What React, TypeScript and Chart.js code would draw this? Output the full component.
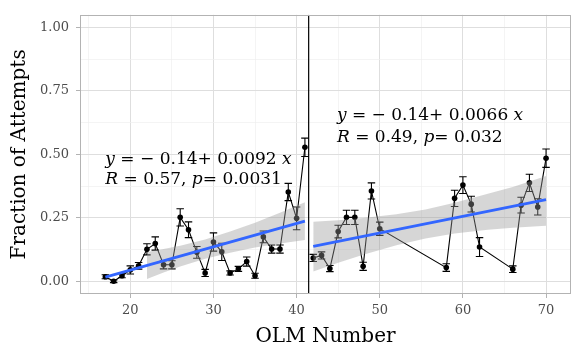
import React, { useEffect, useRef } from "react";
import { Chart, registerables } from "chart.js";

Chart.register(...registerables);

// ---------- data ----------
const leftX = [17, 18, 19, 20, 21, 22, 23, 24, 25, 26, 27, 28, 29, 30, 31, 32, 33, 34, 35, 36, 37, 38, 39, 40, 41];
const leftY = [0.018, 0.0, 0.022, 0.045, 0.061, 0.126, 0.149, 0.065, 0.065, 0.252, 0.203, 0.114, 0.033, 0.155, 0.116, 0.033, 0.049, 0.078, 0.022, 0.175, 0.127, 0.127, 0.352, 0.248, 0.528];
const leftErr = [0.008, 0.005, 0.008, 0.016, 0.013, 0.022, 0.026, 0.016, 0.016, 0.034, 0.031, 0.023, 0.014, 0.036, 0.034, 0.008, 0.01, 0.018, 0.01, 0.023, 0.016, 0.016, 0.034, 0.045, 0.036];

const rightX = [42, 43, 44, 45, 46, 47, 48, 49, 50, 58, 59, 60, 61, 62, 66, 67, 68, 69, 70];
const rightY = [0.092, 0.102, 0.05, 0.196, 0.252, 0.252, 0.059, 0.356, 0.207, 0.054, 0.327, 0.379, 0.304, 0.135, 0.048, 0.3, 0.388, 0.293, 0.485];
const rightErr = [0.014, 0.014, 0.012, 0.025, 0.028, 0.028, 0.016, 0.032, 0.026, 0.015, 0.032, 0.033, 0.031, 0.037, 0.013, 0.031, 0.034, 0.032, 0.036];

const leftFitX = [17, 41];
const leftFitY = [0.0164, 0.2372];
const rightFitX = [42, 70];
const rightFitY = [0.1372, 0.322];

const leftBandX = [22, 24, 26, 29, 32, 35, 38, 41];
const leftBandLow = [0.009, 0.035, 0.058, 0.089, 0.113, 0.133, 0.149, 0.163];
const leftBandHigh = [0.115, 0.127, 0.14, 0.165, 0.196, 0.231, 0.27, 0.311];

const rightBandX = [42, 45, 48, 52, 55.5, 59, 63, 66, 70];
const rightBandLow = [0.039, 0.073, 0.105, 0.142, 0.169, 0.188, 0.203, 0.211, 0.219];
const rightBandHigh = [0.235, 0.241, 0.249, 0.264, 0.283, 0.31, 0.345, 0.372, 0.415];

const splitX = 41.45;

const xMajorTicks = [20, 30, 40, 50, 60, 70];
const xMinorTicks = [15, 25, 35, 45, 55, 65];
const yMajorTicks = [0, 0.25, 0.5, 0.75, 1.0];
const yMinorTicks = [0.125, 0.375, 0.625, 0.875];

const xTitle = "OLM Number";
const yTitle = "Fraction of Attempts";

type Seg = { t: string; i?: boolean };
const annotations: { x: number; y: number; segs: Seg[] }[] = [
  { x: 17, y: 0.462, segs: [{ t: "y", i: true }, { t: " = − 0.14+ 0.0092 " }, { t: "x", i: true }] },
  { x: 17, y: 0.382, segs: [{ t: "R", i: true }, { t: " = 0.57, " }, { t: "p", i: true }, { t: "= 0.0031" }] },
  { x: 44.85, y: 0.635, segs: [{ t: "y", i: true }, { t: " = − 0.14+ 0.0066 " }, { t: "x", i: true }] },
  { x: 44.85, y: 0.55, segs: [{ t: "R", i: true }, { t: " = 0.49, " }, { t: "p", i: true }, { t: "= 0.032" }] },
];

// ---------- styling constants ----------
const FONT = "'DejaVu Serif', serif";
const ANNOT_SIZE = 17;
const CAP_HALF = 0.45; // in x units

const pts = (xs: number[], ys: number[]) => xs.map((x, i) => ({ x, y: ys[i] }));

const errorBarPlugin = {
  id: "errbars",
  afterDatasetDraw(chart: any, args: any) {
    const ds = chart.data.datasets[args.index] as any;
    if (!ds.errors) return;
    const { ctx, scales } = chart;
    const xs = scales.x, ys = scales.y;
    ctx.save();
    ctx.strokeStyle = "#000";
    ctx.lineWidth = 1.1;
    ds.data.forEach((p: any, i: number) => {
      const e = ds.errors[i];
      const px = xs.getPixelForValue(p.x);
      const cw = xs.getPixelForValue(p.x + CAP_HALF) - px;
      const y1 = ys.getPixelForValue(p.y - e);
      const y2 = ys.getPixelForValue(p.y + e);
      ctx.beginPath();
      ctx.moveTo(px, y1);
      ctx.lineTo(px, y2);
      ctx.moveTo(px - cw, y1);
      ctx.lineTo(px + cw, y1);
      ctx.moveTo(px - cw, y2);
      ctx.lineTo(px + cw, y2);
      ctx.stroke();
    });
    ctx.restore();
  },
};

const panelPlugin = {
  id: "panel",
  afterDatasetsDraw(chart: any) {
    const { ctx, chartArea, scales } = chart;
    ctx.save();
    ctx.fillStyle = "#000";
    ctx.textBaseline = "alphabetic";
    ctx.textAlign = "left";
    annotations.forEach((a) => {
      let px = scales.x.getPixelForValue(a.x);
      const py = scales.y.getPixelForValue(a.y);
      a.segs.forEach((s) => {
        ctx.font = `${s.i ? "italic " : ""}${ANNOT_SIZE}px ${FONT}`;
        ctx.fillText(s.t, px, py);
        px += ctx.measureText(s.t).width;
      });
    });
    ctx.strokeStyle = "#B3B3B3";
    ctx.lineWidth = 1;
    ctx.strokeRect(
      Math.round(chartArea.left) + 0.5,
      Math.round(chartArea.top) + 0.5,
      Math.round(chartArea.right - chartArea.left) - 1,
      Math.round(chartArea.bottom - chartArea.top) - 1
    );
    ctx.restore();
  },
};

const isMajorX = (v: number) => xMajorTicks.some((t) => Math.abs(t - v) < 1e-6);
const isMajorY = (v: number) => yMajorTicks.some((t) => Math.abs(t - v) < 1e-6);

export default function App() {
  const ref = useRef<HTMLCanvasElement>(null);
  useEffect(() => {
    document.body.style.margin = "0";
    Chart.defaults.font.family = FONT;
    const canvas = ref.current!;
    const bandFill = "rgba(153,153,153,0.4)";
    const chart = new Chart(canvas, {
      type: "line",
      data: {
        datasets: [
          {
            data: pts(leftX, leftY),
            errors: leftErr,
            borderColor: "#000",
            borderWidth: 1.1,
            pointRadius: 2.8,
            pointBackgroundColor: "#000",
            pointBorderWidth: 0,
            tension: 0,
            order: 4,
          } as any,
          {
            data: pts(rightX, rightY),
            errors: rightErr,
            borderColor: "#000",
            borderWidth: 1.1,
            pointRadius: 2.8,
            pointBackgroundColor: "#000",
            pointBorderWidth: 0,
            tension: 0,
            order: 4,
          } as any,
          { data: pts(leftBandX, leftBandLow), borderWidth: 0, pointRadius: 0, fill: false, order: 3 },
          { data: pts(leftBandX, leftBandHigh), borderWidth: 0, pointRadius: 0, fill: 2, backgroundColor: bandFill, order: 2 },
          { data: pts(rightBandX, rightBandLow), borderWidth: 0, pointRadius: 0, fill: false, order: 3 },
          { data: pts(rightBandX, rightBandHigh), borderWidth: 0, pointRadius: 0, fill: 4, backgroundColor: bandFill, order: 2 },
          { data: pts(leftFitX, leftFitY), borderColor: "#3366FF", borderWidth: 2.8, pointRadius: 0, order: 1 },
          { data: pts(rightFitX, rightFitY), borderColor: "#3366FF", borderWidth: 2.8, pointRadius: 0, order: 1 },
          { data: [{ x: splitX, y: -0.05 }, { x: splitX, y: 1.05 }], borderColor: "#000", borderWidth: 1.2, pointRadius: 0, order: 0 },
        ],
      },
      options: {
        animation: false,
        responsive: false,
        devicePixelRatio: 1,
        layout: { padding: { left: 0, right: 12, top: 12, bottom: 0 } },
        plugins: { legend: { display: false }, tooltip: { enabled: false } },
        scales: {
          x: {
            type: "linear",
            min: 13.95,
            max: 73.0,
            afterBuildTicks: (s: any) => {
              s.ticks = [...xMinorTicks, ...xMajorTicks].sort((a, b) => a - b).map((v) => ({ value: v }));
            },
            afterFit: (s: any) => {
              s.height = 66;
            },
            ticks: {
              autoSkip: false,
              maxRotation: 0,
              color: "#4D4D4D",
              font: { size: 13 },
              padding: 5,
              callback: (v: any) => (isMajorX(Number(v)) ? String(v) : ""),
            },
            grid: {
              color: (c: any) => (isMajorX(c.tick.value) ? "#DEDEDE" : "#EFEFEF"),
              lineWidth: (c: any) => (isMajorX(c.tick.value) ? 1 : 0.7),
              tickColor: (c: any) => (isMajorX(c.tick.value) ? "#B3B3B3" : "rgba(0,0,0,0)"),
              tickLength: 4,
            },
            border: { display: false },
            title: { display: true, text: xTitle, color: "#000", font: { size: 20 }, padding: { top: 0, bottom: 11 } },
          },
          y: {
            type: "linear",
            min: -0.05,
            max: 1.05,
            afterBuildTicks: (s: any) => {
              s.ticks = [...yMinorTicks, ...yMajorTicks].sort((a, b) => a - b).map((v) => ({ value: v }));
            },
            afterFit: (s: any) => {
              s.width = 80;
            },
            ticks: {
              autoSkip: false,
              color: "#4D4D4D",
              font: { size: 13 },
              padding: 7,
              callback: (v: any) => (isMajorY(Number(v)) ? Number(v).toFixed(2) : ""),
            },
            grid: {
              color: (c: any) => (isMajorY(c.tick.value) ? "#DEDEDE" : "#EFEFEF"),
              lineWidth: (c: any) => (isMajorY(c.tick.value) ? 1 : 0.7),
              tickColor: (c: any) => (isMajorY(c.tick.value) ? "#B3B3B3" : "rgba(0,0,0,0)"),
              tickLength: 4,
            },
            border: { display: false },
            title: { display: true, text: yTitle, color: "#000", font: { size: 20 }, padding: { top: 8, bottom: 0 } },
          },
        },
      },
      plugins: [errorBarPlugin, panelPlugin],
    } as any);
    return () => chart.destroy();
  }, []);
  return (
    <div style={{ position: "fixed", left: 0, top: 0, width: 583, height: 360, background: "#fff" }}>
      <canvas ref={ref} width={583} height={360} style={{ display: "block", width: 583, height: 360 }} />
    </div>
  );
}
